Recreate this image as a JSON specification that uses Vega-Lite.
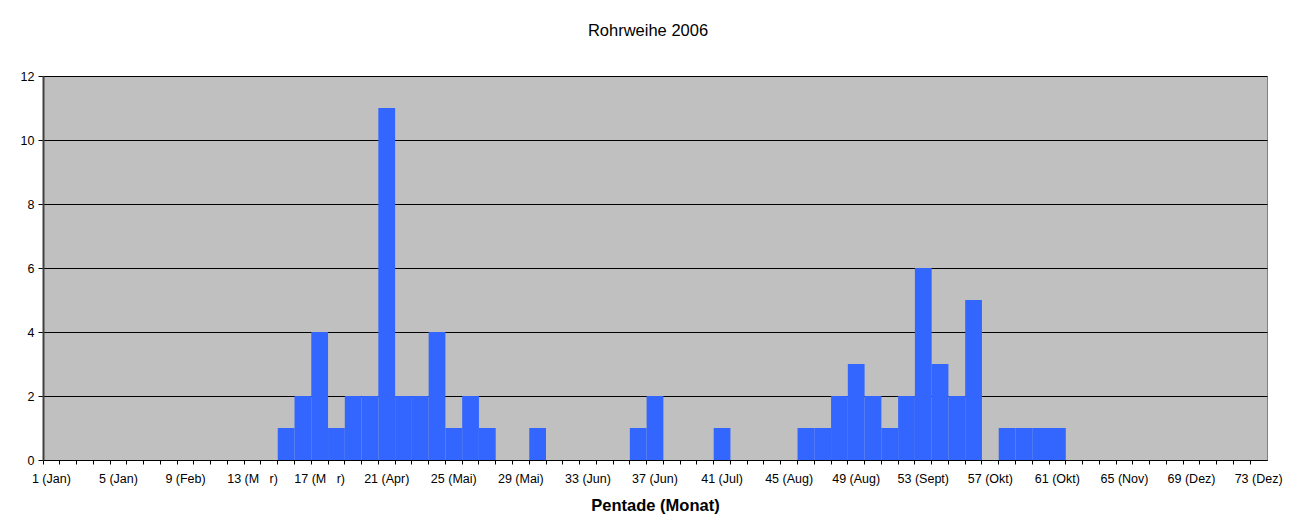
{
  "$schema": "https://vega.github.io/schema/vega-lite/v6.json",
  "width": 1224,
  "height": 384,
  "autosize": {"type": "none"},
  "padding": {"left": 43, "top": 76, "right": 28, "bottom": 64},
  "background": "white",
  "title": {"text": "Rohrweihe 2006", "font": "Liberation Sans", "fontSize": 16.5, "fontWeight": "normal", "color": "black", "offset": 31, "dx": -7},
  "config": {
    "view": {"fill": "#C0C0C0", "stroke": "#808080", "strokeWidth": 1},
    "axis": {"labelFont": "Liberation Sans", "titleFont": "Liberation Sans", "labelColor": "black", "titleColor": "black"}
  },
  "data": {"values": [
    {"pentade": 1, "anzahl": 0}, {"pentade": 2, "anzahl": 0}, {"pentade": 3, "anzahl": 0}, {"pentade": 4, "anzahl": 0},
    {"pentade": 5, "anzahl": 0}, {"pentade": 6, "anzahl": 0}, {"pentade": 7, "anzahl": 0}, {"pentade": 8, "anzahl": 0},
    {"pentade": 9, "anzahl": 0}, {"pentade": 10, "anzahl": 0}, {"pentade": 11, "anzahl": 0}, {"pentade": 12, "anzahl": 0},
    {"pentade": 13, "anzahl": 0}, {"pentade": 14, "anzahl": 0}, {"pentade": 15, "anzahl": 1}, {"pentade": 16, "anzahl": 2},
    {"pentade": 17, "anzahl": 4}, {"pentade": 18, "anzahl": 1}, {"pentade": 19, "anzahl": 2}, {"pentade": 20, "anzahl": 2},
    {"pentade": 21, "anzahl": 11}, {"pentade": 22, "anzahl": 2}, {"pentade": 23, "anzahl": 2}, {"pentade": 24, "anzahl": 4},
    {"pentade": 25, "anzahl": 1}, {"pentade": 26, "anzahl": 2}, {"pentade": 27, "anzahl": 1}, {"pentade": 28, "anzahl": 0},
    {"pentade": 29, "anzahl": 0}, {"pentade": 30, "anzahl": 1}, {"pentade": 31, "anzahl": 0}, {"pentade": 32, "anzahl": 0},
    {"pentade": 33, "anzahl": 0}, {"pentade": 34, "anzahl": 0}, {"pentade": 35, "anzahl": 0}, {"pentade": 36, "anzahl": 1},
    {"pentade": 37, "anzahl": 2}, {"pentade": 38, "anzahl": 0}, {"pentade": 39, "anzahl": 0}, {"pentade": 40, "anzahl": 0},
    {"pentade": 41, "anzahl": 1}, {"pentade": 42, "anzahl": 0}, {"pentade": 43, "anzahl": 0}, {"pentade": 44, "anzahl": 0},
    {"pentade": 45, "anzahl": 0}, {"pentade": 46, "anzahl": 1}, {"pentade": 47, "anzahl": 1}, {"pentade": 48, "anzahl": 2},
    {"pentade": 49, "anzahl": 3}, {"pentade": 50, "anzahl": 2}, {"pentade": 51, "anzahl": 1}, {"pentade": 52, "anzahl": 2},
    {"pentade": 53, "anzahl": 6}, {"pentade": 54, "anzahl": 3}, {"pentade": 55, "anzahl": 2}, {"pentade": 56, "anzahl": 5},
    {"pentade": 57, "anzahl": 0}, {"pentade": 58, "anzahl": 1}, {"pentade": 59, "anzahl": 1}, {"pentade": 60, "anzahl": 1},
    {"pentade": 61, "anzahl": 1}, {"pentade": 62, "anzahl": 0}, {"pentade": 63, "anzahl": 0}, {"pentade": 64, "anzahl": 0},
    {"pentade": 65, "anzahl": 0}, {"pentade": 66, "anzahl": 0}, {"pentade": 67, "anzahl": 0}, {"pentade": 68, "anzahl": 0},
    {"pentade": 69, "anzahl": 0}, {"pentade": 70, "anzahl": 0}, {"pentade": 71, "anzahl": 0}, {"pentade": 72, "anzahl": 0},
    {"pentade": 73, "anzahl": 0}
  ]},
  "layer": [
    {
      "mark": {"type": "bar", "color": "#3366FF"},
      "encoding": {
        "x": {
          "field": "pentade", "type": "ordinal",
          "scale": {"paddingInner": 0, "paddingOuter": 0},
          "axis": {
            "orient": "bottom", "bandPosition": 0, "labels": false, "ticks": true, "tickSize": 4,
            "tickColor": "black", "domainColor": "black", "domainWidth": 1, "grid": false,
            "title": "Pentade (Monat)", "titleFontSize": 16.5, "titleFontWeight": "bold", "titlePadding": 33
          }
        },
        "y": {
          "field": "anzahl", "type": "quantitative",
          "scale": {"domain": [0, 12], "nice": false},
          "axis": {
            "values": [0, 2, 4, 6, 8, 10, 12], "grid": true, "gridColor": "black", "gridWidth": 1,
            "domainColor": "#404040", "domainWidth": 2, "tickColor": "black", "tickSize": 5,
            "labelFontSize": 12.5, "labelPadding": 4, "title": null
          }
        }
      }
    },
    {
      "mark": {"type": "bar", "opacity": 0},
      "encoding": {
        "x": {
          "field": "pentade", "type": "ordinal",
          "axis": {
            "orient": "bottom", "domain": false, "ticks": false, "grid": false, "labelAngle": 0,
            "labelOverlap": false, "labelFontSize": 12.5, "labelPadding": 12, "title": null,
            "labelExpr": "(datum.value - 1) % 4 == 0 ? datum.value + ' (' + ['Jan','Jan','Feb','M\u00a0\u00a0\u00a0r','M\u00a0\u00a0\u00a0r','Apr','Mai','Mai','Jun','Jun','Jul','Aug','Aug','Sept','Okt','Okt','Nov','Dez','Dez'][(datum.value - 1) / 4] + ')' : ''"
          }
        },
        "y": {"field": "anzahl", "type": "quantitative"}
      }
    }
  ],
  "resolve": {"axis": {"x": "independent"}}
}
